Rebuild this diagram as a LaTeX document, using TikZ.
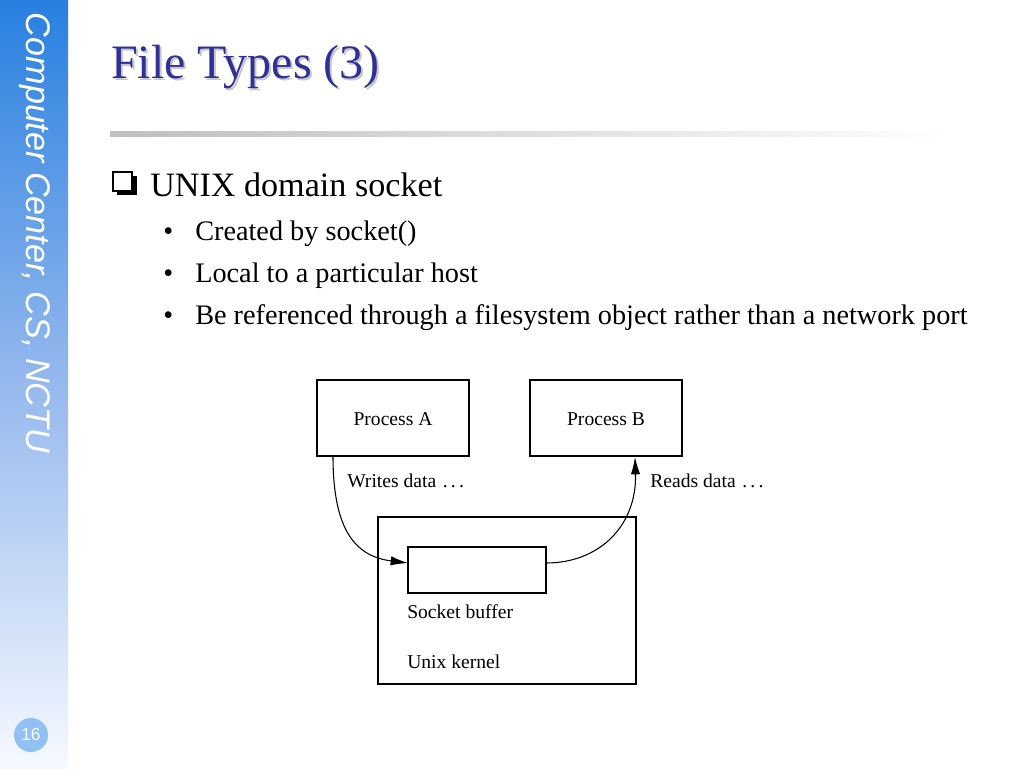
\documentclass[tikz,border=0pt]{standalone}
\usepackage{fontspec}
\setmainfont{Liberation Serif}
\newfontfamily\sidefont{Liberation Sans}
\usetikzlibrary{arrows.meta}
\definecolor{titleblue}{RGB}{48,48,150}
\definecolor{sidetop}{RGB}{40,128,224}
\definecolor{sidebot}{RGB}{246,249,255}
\definecolor{pagecirc}{RGB}{144,192,244}
\tikzset{
  boxstyle/.style={draw=black, line width=0.8pt},
  lbl/.style={inner sep=0pt, font=\fontsize{14.7pt}{16pt}\selectfont},
  flow/.style={line width=0.8pt, -{Latex[length=13pt,width=7pt]}},
  bullettext/.style={anchor=base west, inner sep=0pt, font=\fontsize{21.2pt}{25pt}\selectfont}
}
\begin{document}
\begin{tikzpicture}[x=0.75pt,y=-0.75pt]
\useasboundingbox (0,0) rectangle (1024,768);
\fill[white] (0,0) rectangle (1024,768);
% sidebar
\shade[top color=sidetop, bottom color=sidebot, middle color={rgb,255:red,150;green,185;blue,238}] (0,0) rectangle (68,768);
\node[rotate=-90, text=white, inner sep=0pt, font=\sidefont\itshape\fontsize{25.6pt}{30pt}\selectfont] (side) at (35,233) {Computer Center, CS, NCTU};
\node[circle, fill=pagecirc, minimum size=25.5pt, inner sep=0pt, text=white, font=\sidefont\fontsize{13pt}{15pt}\selectfont] (page) at (31,735) {16};
% title with shadow
\node[anchor=base west, inner sep=0pt, text=titleblue, font=\fontsize{36pt}{40pt}\selectfont] (title) at (111,78)
  {\makebox[0pt][l]{\kern1.5pt\raisebox{-1.9pt}{\textcolor{black!22}{File Types (3)}}}File Types (3)};
\shade[left color=black!25, right color=white] (110,131) rectangle (955,136);
% heading
\fill[black] (117,176) rectangle (137,195);
\draw[fill=white, line width=1.1pt] (113,172) rectangle (132,191);
\node[anchor=base west, inner sep=0pt, font=\fontsize{25.6pt}{30pt}\selectfont] (head) at (150,196) {UNIX domain socket};
\node[bullettext] (b1d) at (163,240) {•};
\node[bullettext] (b1) at (195,240) {Created by socket()};
\node[bullettext] (b2d) at (163,282) {•};
\node[bullettext] (b2) at (195,282) {Local to a particular host};
\node[bullettext] (b3d) at (163,324) {•};
\node[bullettext] (b3) at (195,324) {Be referenced through a filesystem object rather than a network port};
% diagram
\draw[boxstyle] (317,380) rectangle (469,456);
\node[lbl] (pa) at (393,419) {Process A};
\draw[boxstyle] (530,380) rectangle (682,456);
\node[lbl] (pb) at (606,419) {Process B};
\draw[boxstyle] (378,517) rectangle (636,684);
\draw[boxstyle] (408,547) rectangle (546,593);
\coordinate (aout) at (333,456);
\coordinate (bin) at (408,563);
\coordinate (bout) at (546,563);
\coordinate (pbin) at (635,457);
\node[lbl, anchor=base west] (wd) at (347,487) {Writes data\,\,.\,.\,.};
\node[lbl, anchor=base west] (rd) at (650,487) {Reads data\,\,.\,.\,.};
\node[lbl, anchor=base west] (sb) at (407,618) {Socket buffer};
\node[lbl, anchor=base west] (uk) at (407,668) {Unix kernel};
\draw[flow] (aout) .. controls (333,525) and (352,556) .. (bin);
\draw[flow] (bout) .. controls (600,563) and (637,525) .. (pbin);
\end{tikzpicture}
\end{document}
